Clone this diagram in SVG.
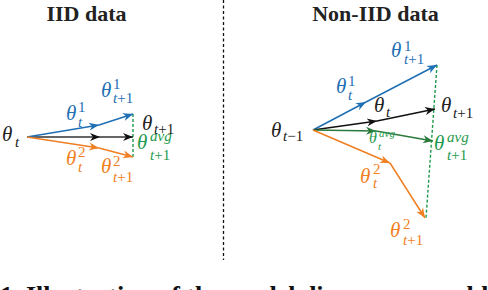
<svg xmlns="http://www.w3.org/2000/svg" width="488" height="290" viewBox="0 0 488 290">
<style>
.title{font-family:"Liberation Serif",serif;font-weight:bold;font-size:22px;fill:#222;text-anchor:middle}
.cap{font-family:"Liberation Serif",serif;font-weight:bold;font-size:26px;fill:#111}
.th{font-family:"Liberation Serif","DejaVu Serif",serif;font-style:italic;font-size:21px}
.sc{font-family:"Liberation Serif","DejaVu Serif",serif;font-size:15px}
.it{font-style:italic}
.blue{fill:#1f6fb4}.orange{fill:#f07f22}.green{fill:#1f9a4c}.black{fill:#222}
.ln{fill:none;stroke-width:1.5}
</style>
<defs>
<marker id="mk" viewBox="-10 -5 11 10" refX="0" refY="0" markerWidth="11" markerHeight="10" markerUnits="userSpaceOnUse" orient="auto"><path d="M0,0 L-10,-4 L-7,0 L-10,4 Z" fill="#111"/></marker>
<marker id="mb" viewBox="-10 -5 11 10" refX="0" refY="0" markerWidth="11" markerHeight="10" markerUnits="userSpaceOnUse" orient="auto"><path d="M0,0 L-10,-4 L-7,0 L-10,4 Z" fill="#1f6fb4"/></marker>
<marker id="mo" viewBox="-10 -5 11 10" refX="0" refY="0" markerWidth="11" markerHeight="10" markerUnits="userSpaceOnUse" orient="auto"><path d="M0,0 L-10,-4 L-7,0 L-10,4 Z" fill="#f07f22"/></marker>
<marker id="mg" viewBox="-10 -5 11 10" refX="0" refY="0" markerWidth="11" markerHeight="10" markerUnits="userSpaceOnUse" orient="auto"><path d="M0,0 L-10,-4 L-7,0 L-10,4 Z" fill="#2a7a3c"/></marker>
</defs>

<text class="title" x="86.5" y="21">IID data</text>
<text class="title" x="375.5" y="21">Non-IID data</text>

<g id="connectors">
<line x1="223.5" y1="0" x2="223.5" y2="260" stroke="#111" stroke-width="1.3" stroke-dasharray="3,2.5"/>
<line x1="133" y1="114" x2="133" y2="158" stroke="#1f9a4c" stroke-width="1.4" stroke-dasharray="3,2"/>
<line class="ln" x1="27" y1="137" x2="100" y2="137" stroke="#333" marker-end="url(#mk)"/>
<line class="ln" x1="100" y1="137" x2="133" y2="137" stroke="#333" marker-end="url(#mk)"/>
<line class="ln" x1="27" y1="137" x2="99" y2="125" stroke="#1f6fb4" marker-end="url(#mb)"/>
<line class="ln" x1="99" y1="125" x2="133" y2="114" stroke="#1f6fb4" marker-end="url(#mb)"/>
<line class="ln" x1="27" y1="137" x2="99" y2="148" stroke="#f07f22" marker-end="url(#mo)"/>
<line class="ln" x1="99" y1="148" x2="133" y2="157" stroke="#f07f22" marker-end="url(#mo)"/>
<line x1="437" y1="65" x2="426" y2="218" stroke="#1f9a4c" stroke-width="1.4" stroke-dasharray="3,2"/>
<line class="ln" x1="313" y1="130" x2="366" y2="102" stroke="#1f6fb4" marker-end="url(#mb)"/>
<line class="ln" x1="366" y1="102" x2="437" y2="65" stroke="#1f6fb4" marker-end="url(#mb)"/>
<line class="ln" x1="313" y1="130" x2="377" y2="121" stroke="#111" marker-end="url(#mk)"/>
<line class="ln" x1="377" y1="121" x2="435" y2="109" stroke="#111" marker-end="url(#mk)"/>
<line class="ln" x1="313" y1="130" x2="376" y2="131" stroke="#2a7a3c" marker-end="url(#mg)"/>
<line class="ln" x1="376" y1="131" x2="433" y2="141" stroke="#2a7a3c" marker-end="url(#mg)"/>
<line class="ln" x1="313" y1="130" x2="390" y2="163" stroke="#f07f22" marker-end="url(#mo)"/>
<line class="ln" x1="390" y1="163" x2="425" y2="218" stroke="#f07f22" marker-end="url(#mo)"/>
</g>

<g id="iid-theta-t" class="black"><text class="th" x="2" y="141">θ</text><text class="sc it" x="15" y="147">t</text></g>
<g id="iid-theta1-t" class="blue"><text class="th" x="66" y="120">θ</text><text class="sc" x="78" y="112">1</text><text class="sc it" x="78" y="127">t</text></g>
<g id="iid-theta1-t1" class="blue"><text class="th" x="101" y="97">θ</text><text class="sc" x="113" y="89">1</text><text class="sc" x="113" y="103"><tspan class="it">t</tspan>+1</text></g>
<g id="iid-theta-t1" class="black"><text class="th" x="142" y="130">θ</text><text class="sc" x="154" y="134"><tspan class="it">t</tspan>+1</text></g>
<g id="iid-thetaavg-t1" class="green"><text class="th" x="137" y="149">θ</text><text class="sc it" x="150" y="141">avg</text><text class="sc" x="150" y="160"><tspan class="it">t</tspan>+1</text></g>
<g id="iid-theta2-t" class="orange"><text class="th" x="66" y="165">θ</text><text class="sc" x="78" y="157">2</text><text class="sc it" x="78" y="172">t</text></g>
<g id="iid-theta2-t1" class="orange"><text class="th" x="101" y="173">θ</text><text class="sc" x="113" y="166">2</text><text class="sc" x="113" y="182"><tspan class="it">t</tspan>+1</text></g>

<g id="non-theta-tm1" class="black"><text class="th" x="271" y="137">θ</text><text class="sc" x="283" y="141"><tspan class="it">t</tspan>−1</text></g>
<g id="non-theta1-t" class="blue"><text class="th" x="336" y="93">θ</text><text class="sc" x="348" y="86">1</text><text class="sc it" x="348" y="100">t</text></g>
<g id="non-theta1-t1" class="blue"><text class="th" x="391" y="57">θ</text><text class="sc" x="404" y="51">1</text><text class="sc" x="404" y="64"><tspan class="it">t</tspan>+1</text></g>
<g id="non-theta-t" class="black"><text class="th" x="374" y="112">θ</text><text class="sc it" x="386" y="117">t</text></g>
<g id="non-theta-t1" class="black"><text class="th" x="441" y="112">θ</text><text class="sc" x="453" y="118"><tspan class="it">t</tspan>+1</text></g>
<g id="non-thetaavg-t" class="green"><text class="th" x="369" y="143" style="font-size:16px">θ</text><text class="sc it" x="379" y="137" style="font-size:11px">avg</text><text class="sc it" x="378" y="150" style="font-size:11px">t</text></g>
<g id="non-thetaavg-t1" class="green"><text class="th" x="434" y="150">θ</text><text class="sc it" x="447" y="142">avg</text><text class="sc" x="447" y="160"><tspan class="it">t</tspan>+1</text></g>
<g id="non-theta2-t" class="orange"><text class="th" x="360" y="183">θ</text><text class="sc" x="373" y="174">2</text><text class="sc it" x="373" y="188">t</text></g>
<g id="non-theta2-t1" class="orange"><text class="th" x="390" y="237">θ</text><text class="sc" x="403" y="229">2</text><text class="sc" x="403" y="245"><tspan class="it">t</tspan>+1</text></g>

<text class="cap" x="0" y="304">1. Illustration of the model divergence problem</text>
</svg>
